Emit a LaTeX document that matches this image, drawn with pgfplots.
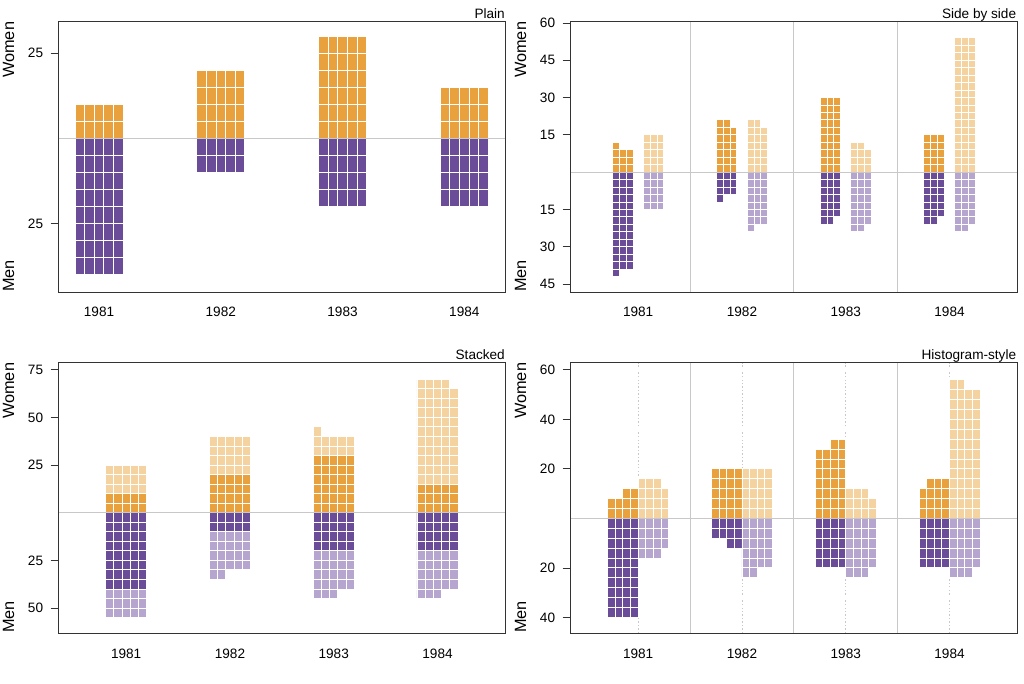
\documentclass[border=0pt]{standalone}
\usepackage{fontspec}
\setmainfont{Liberation Sans}
\usepackage{pgfplots}
\usepackage{pgfplotstable}
\pgfplotsset{compat=1.18}
\definecolor{dorange}{HTML}{E9A13E}
\definecolor{lorange}{HTML}{F5D3A0}
\definecolor{dpurple}{HTML}{6A4C98}
\definecolor{lpurple}{HTML}{B5A5CF}
\definecolor{zline}{HTML}{C8C8C8}
\definecolor{frame}{HTML}{333333}

% Plain: 5 columns per group (offset o from year), heights in y units
\pgfplotstableread{
yr o w m
1 -0.1576 10 -40
1 -0.0788 10 -40
1 0 10 -40
1 0.0788 10 -40
1 0.1576 10 -40
2 -0.1576 20 -10
2 -0.0788 20 -10
2 0 20 -10
2 0.0788 20 -10
2 0.1576 20 -10
3 -0.1576 30 -20
3 -0.0788 30 -20
3 0 30 -20
3 0.0788 30 -20
3 0.1576 30 -20
4 -0.1576 15 -20
4 -0.0788 15 -20
4 0 15 -20
4 0.0788 15 -20
4 0.1576 15 -20
}\plaindata

% Side by side: 3 columns per group
\pgfplotstableread{
yr od ol dw dm lw lm
1 -0.2140 0.0828 12 -42 15 -15
1 -0.1484 0.1484 9 -39 15 -15
1 -0.0828 0.2140 9 -39 15 -15
2 -0.2140 0.0828 21 -12 21 -24
2 -0.1484 0.1484 21 -9 21 -21
2 -0.0828 0.2140 18 -9 18 -21
3 -0.2140 0.0828 30 -21 12 -24
3 -0.1484 0.1484 30 -21 12 -24
3 -0.0828 0.2140 30 -18 9 -21
4 -0.2140 0.0828 15 -21 54 -24
4 -0.1484 0.1484 15 -21 54 -24
4 -0.0828 0.2140 15 -18 54 -21
}\sidedata

% Stacked: 5 columns, dark and total (dark+light)
\pgfplotstableread{
yr o dw dm tw tm
1 -0.1584 10 -40 25 -55
1 -0.0792 10 -40 25 -55
1 0 10 -40 25 -55
1 0.0792 10 -40 25 -55
1 0.1584 10 -40 25 -55
2 -0.1584 20 -10 40 -35
2 -0.0792 20 -10 40 -35
2 0 20 -10 40 -30
2 0.0792 20 -10 40 -30
2 0.1584 20 -10 40 -30
3 -0.1584 30 -20 45 -45
3 -0.0792 30 -20 40 -45
3 0 30 -20 40 -45
3 0.0792 30 -20 40 -40
3 0.1584 30 -20 40 -40
4 -0.1584 15 -20 70 -45
4 -0.0792 15 -20 70 -45
4 0 15 -20 70 -45
4 0.0792 15 -20 70 -40
4 0.1584 15 -20 65 -40
}\stackdata

% Histogram-style: 4 columns each side of the year
\pgfplotstableread{
yr od ol dw dm lw lm
1 -0.2573 0.0368 8 -40 16 -16
1 -0.1838 0.1103 8 -40 16 -16
1 -0.1103 0.1838 12 -40 16 -16
1 -0.0368 0.2573 12 -40 12 -12
2 -0.2573 0.0368 20 -8 20 -24
2 -0.1838 0.1103 20 -8 20 -24
2 -0.1103 0.1838 20 -12 20 -20
2 -0.0368 0.2573 20 -12 20 -20
3 -0.2573 0.0368 28 -20 12 -24
3 -0.1838 0.1103 28 -20 12 -24
3 -0.1103 0.1838 32 -20 12 -24
3 -0.0368 0.2573 32 -20 8 -20
4 -0.2573 0.0368 12 -20 56 -24
4 -0.1838 0.1103 16 -20 56 -24
4 -0.1103 0.1838 16 -20 52 -24
4 -0.0368 0.2573 16 -20 52 -20
}\histdata

\pgfplotsset{
  panel/.style={
    scale only axis, width=446.3pt, height=270.3pt,
    anchor=south west,
    ybar, bar width=#1,
    axis on top,
    axis line style={frame, line width=0.8pt},
    xtick={1,2,3,4}, xticklabels={1981,1982,1983,1984},
    xtick style={draw=none},
    ytick style={frame, line width=0.8pt},
    major tick length=8pt,
    tick align=outside,
    ytick pos=left, xtick pos=bottom,
    /pgf/number format/assume math mode=true,
    tick label style={font=\fontsize{13.6}{16}\selectfont},
    yticklabel style={inner sep=0pt, xshift=-7.4pt},
    xticklabel style={inner sep=0pt, anchor=north, yshift=-7.3pt},
  },
  cell/.style={fill=#1, draw=white, line width=0.9pt, bar shift=0pt},
}
\newcommand{\lab}{\fontsize{16.3}{19}\selectfont}
\newcommand{\ttl}{\fontsize{13.6}{16}\selectfont}

\begin{document}
\begin{tikzpicture}[x=1pt,y=1pt]
\path[use as bounding box] (0,0) rectangle (1024,683);

% ---------------- Plain
\begin{axis}[panel=0.0788, at={(58.7pt,391pt)},
  xmin=0.669, xmax=4.334, ymin=-45.1, ymax=34.2,
  ytick={-25,25}, yticklabels={25,25}]
\addplot[cell=dorange] table[x expr=\thisrow{yr}+\thisrow{o}, y=w] {\plaindata};
\addplot[cell=dpurple] table[x expr=\thisrow{yr}+\thisrow{o}, y=m] {\plaindata};
\pgfplotsinvokeforeach{-9,...,6}{\draw[white, line width=0.9pt] (axis cs:0.669,#1*5) -- (axis cs:4.334,#1*5);}
\draw[zline, line width=1.1pt] (axis cs:0.669,0) -- (axis cs:4.334,0);
\end{axis}

% ---------------- Side by side
\begin{axis}[panel=0.0656, at={(570.7pt,391pt)},
  xmin=0.35, xmax=4.65, ymin=-48.2, ymax=60.5,
  ytick={-45,-30,-15,15,30,45,60}, yticklabels={45,30,15,15,30,45,60}]
\addplot[cell=dorange] table[x expr=\thisrow{yr}+\thisrow{od}, y=dw] {\sidedata};
\addplot[cell=dpurple] table[x expr=\thisrow{yr}+\thisrow{od}, y=dm] {\sidedata};
\addplot[cell=lorange] table[x expr=\thisrow{yr}+\thisrow{ol}, y=lw] {\sidedata};
\addplot[cell=lpurple] table[x expr=\thisrow{yr}+\thisrow{ol}, y=lm] {\sidedata};
\pgfplotsinvokeforeach{-16,...,20}{\draw[white, line width=0.9pt] (axis cs:0.35,#1*3) -- (axis cs:4.65,#1*3);}
\draw[zline, line width=1.1pt] (axis cs:0.35,0) -- (axis cs:4.65,0);
\pgfplotsinvokeforeach{1.5,2.5,3.5}{\draw[zline, line width=1.1pt] (axis cs:#1,-48.2) -- (axis cs:#1,60.5);}
\end{axis}

% ---------------- Stacked
\begin{axis}[panel=0.0792, at={(58.7pt,50pt)},
  xmin=0.35, xmax=4.65, ymin=-63.1, ymax=78.7,
  ytick={-50,-25,25,50,75}, yticklabels={50,25,25,50,75}]
\addplot[cell=lorange] table[x expr=\thisrow{yr}+\thisrow{o}, y=tw] {\stackdata};
\addplot[cell=lpurple] table[x expr=\thisrow{yr}+\thisrow{o}, y=tm] {\stackdata};
\addplot[cell=dorange] table[x expr=\thisrow{yr}+\thisrow{o}, y=dw] {\stackdata};
\addplot[cell=dpurple] table[x expr=\thisrow{yr}+\thisrow{o}, y=dm] {\stackdata};
\pgfplotsinvokeforeach{-12,...,15}{\draw[white, line width=0.9pt] (axis cs:0.35,#1*5) -- (axis cs:4.65,#1*5);}
\draw[zline, line width=1.1pt] (axis cs:0.35,0) -- (axis cs:4.65,0);
\end{axis}

% ---------------- Histogram-style
\begin{axis}[panel=0.0735, at={(570.7pt,50pt)},
  xmin=0.35, xmax=4.65, ymin=-46.3, ymax=62.9,
  ytick={-40,-20,20,40,60}, yticklabels={40,20,20,40,60}]
\pgfplotsinvokeforeach{1,2,3,4}{\draw[zline, line width=0.8pt, dash pattern=on 1.5pt off 2pt] (axis cs:#1,-46.3) -- (axis cs:#1,62.9);}
\addplot[cell=dorange] table[x expr=\thisrow{yr}+\thisrow{od}, y=dw] {\histdata};
\addplot[cell=dpurple] table[x expr=\thisrow{yr}+\thisrow{od}, y=dm] {\histdata};
\addplot[cell=lorange] table[x expr=\thisrow{yr}+\thisrow{ol}, y=lw] {\histdata};
\addplot[cell=lpurple] table[x expr=\thisrow{yr}+\thisrow{ol}, y=lm] {\histdata};
\pgfplotsinvokeforeach{-11,...,15}{\draw[white, line width=0.9pt] (axis cs:0.35,#1*4) -- (axis cs:4.65,#1*4);}
\draw[zline, line width=1.1pt] (axis cs:0.35,0) -- (axis cs:4.65,0);
\pgfplotsinvokeforeach{1.5,2.5,3.5}{\draw[zline, line width=1.1pt] (axis cs:#1,-46.3) -- (axis cs:#1,62.9);}
\end{axis}

% titles and side labels
\node[anchor=base east, font=\ttl, inner sep=0pt] at (505,664) {Plain};
\node[anchor=base east, font=\ttl, inner sep=0pt] at (1016.3,664) {Side by side};
\node[anchor=base east, font=\ttl, inner sep=0pt] at (505,323) {Stacked};
\node[anchor=base east, font=\ttl, inner sep=0pt] at (1016.3,323) {Histogram-style};

\node[rotate=90, anchor=base east, font=\lab, inner sep=0pt] at (14,661.3) {Women};
\node[rotate=90, anchor=base west, font=\lab, inner sep=0pt] at (14,391) {Men};
\node[rotate=90, anchor=base east, font=\lab, inner sep=0pt] at (526,661.3) {Women};
\node[rotate=90, anchor=base west, font=\lab, inner sep=0pt] at (526,391) {Men};
\node[rotate=90, anchor=base east, font=\lab, inner sep=0pt] at (14,320.3) {Women};
\node[rotate=90, anchor=base west, font=\lab, inner sep=0pt] at (14,50) {Men};
\node[rotate=90, anchor=base east, font=\lab, inner sep=0pt] at (526,320.3) {Women};
\node[rotate=90, anchor=base west, font=\lab, inner sep=0pt] at (526,50) {Men};
\end{tikzpicture}
\end{document}
